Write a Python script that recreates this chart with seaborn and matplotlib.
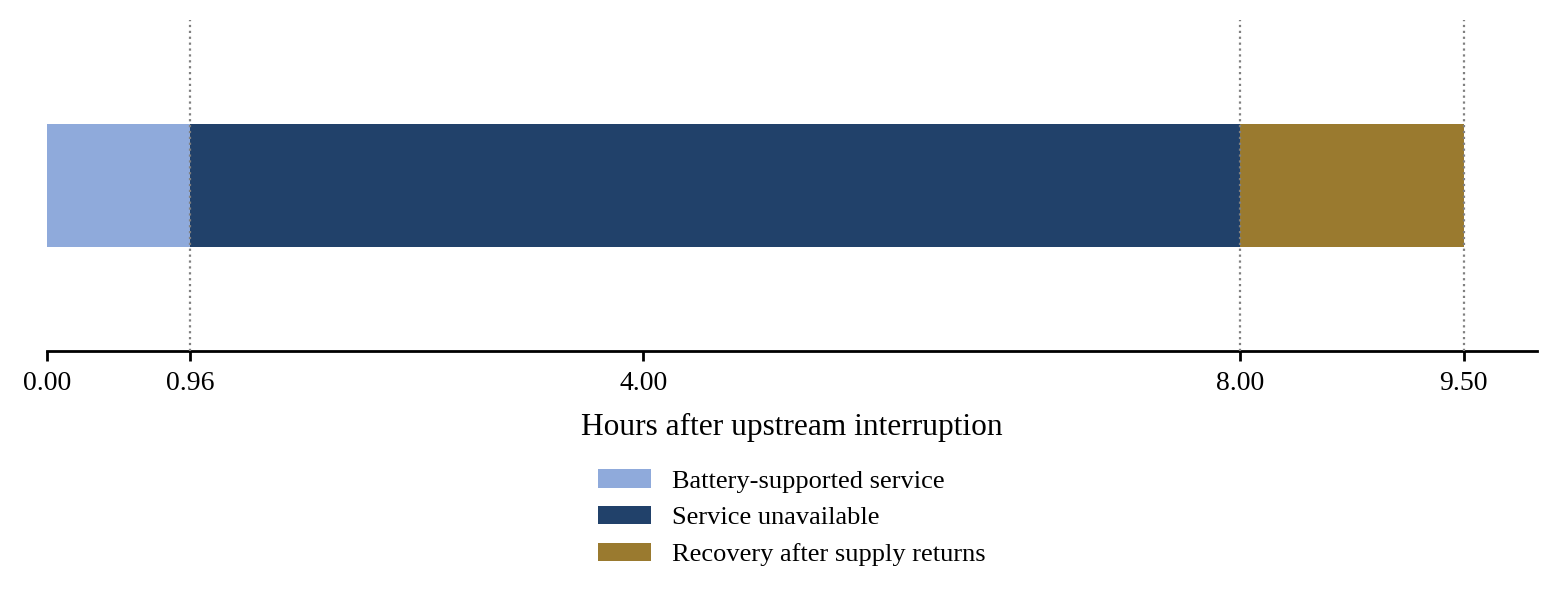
import pandas as pd
import seaborn as sns
import matplotlib.pyplot as plt

sns.set_theme(style="white")
plt.rcParams["font.family"] = ["Liberation Serif", "DejaVu Serif"]
plt.rcParams["text.color"] = "black"
plt.rcParams["axes.labelcolor"] = "black"
plt.rcParams["xtick.color"] = "black"

# phases of the outage timeline (hours after interruption)
phases = ["Battery-supported service", "Service unavailable", "Recovery after supply returns"]
phase_start = [0.0, 0.96, 8.00]
phase_end = [0.96, 8.00, 9.50]
phase_colors = ["#8FAADB", "#21416A", "#9A7A2F"]
tick_values = [0.0, 0.96, 4.00, 8.00, 9.50]
marker_lines = [0.96, 8.00, 9.50]

df = pd.DataFrame({
    "phase": phases,
    "start": phase_start,
    "end": phase_end,
    "row": ["outage"] * len(phases),
})
palette = dict(zip(phases, phase_colors))

fig, ax = plt.subplots(figsize=(7.8, 2.995), dpi=200)
fig.subplots_adjust(left=0.030, right=0.985, bottom=0.414, top=0.967)

# draw longest segment first so the shorter ones sit on top (stacked look)
draw_order = phases[::-1]
sns.barplot(
    data=df, x="end", y="row", hue="phase", hue_order=draw_order,
    palette=palette, dodge=False, width=0.5, orient="h",
    linewidth=0, saturation=1, ax=ax,
)

for xv in marker_lines:
    ax.axvline(xv, color="grey", linestyle=":", linewidth=0.8, zorder=5)

ax.set_xlim(0, 9.99)
ax.set_ylim(0.675, -0.675)
ax.set_xticks(tick_values)
ax.set_xticklabels([f"{v:.2f}" for v in tick_values], fontsize=10)
ax.set_yticks([])
ax.set_ylabel("")
ax.set_xlabel("Hours after upstream interruption", fontsize=11.3, labelpad=6)

ax.tick_params(axis="x", which="major", bottom=True, length=3.6, width=1.0,
               direction="out", pad=3.6)
sns.despine(ax=ax, left=True, top=True, right=True)
ax.spines["bottom"].set_linewidth(1.0)
ax.spines["bottom"].set_color("black")

handles, labels = ax.get_legend_handles_labels()
lookup = dict(zip(labels, handles))
ax.legend(
    [lookup[p] for p in phases], phases,
    loc="upper center", bbox_to_anchor=(0.5, -0.285),
    frameon=False, fontsize=9.5, ncol=1,
)

fig.savefig("out.png", dpi=200)
